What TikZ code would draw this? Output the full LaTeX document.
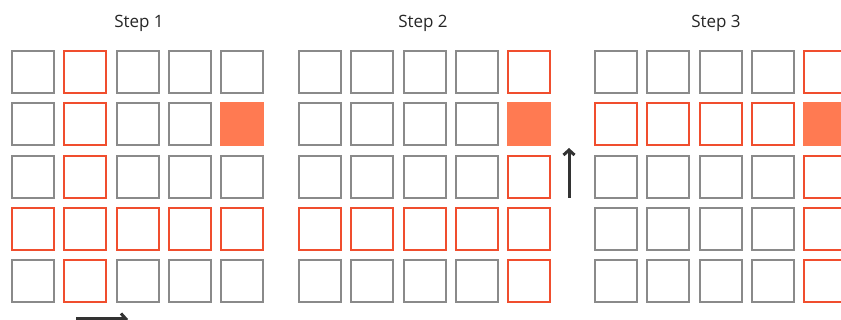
\documentclass[tikz,border=0pt]{standalone}
\usepackage{fontspec}
\setmainfont{Open Sans}
\usetikzlibrary{arrows.meta}

\definecolor{cellgray}{HTML}{8A8A8A}
\definecolor{cellred}{HTML}{F04E2E}
\definecolor{cellfill}{HTML}{FF7A52}

\tikzset{
  cell/.style={draw=cellgray, line width=2pt, minimum size=42pt, inner sep=0pt},
  hot/.style={cell, draw=cellred},
  target/.style={cell, draw=cellfill, fill=cellfill},
  steplabel/.style={font=\fontsize{17}{20}\selectfont, text=black!85},
  movearrow/.style={line width=3pt, draw=black!80, -{Straight Barb[length=5pt,width=11pt]}}
}

\begin{document}
\begin{tikzpicture}[x=1pt,y=-1pt]
\useasboundingbox (0,0) rectangle (841,320);

% Parameters
\def\pitch{52.3}   % distance between cell centres
\def\ytop{72}      % centre of the top row

% Grids: step / x of first column / highlighted column / highlighted row / title x
\foreach \g/\xo/\hc/\hr/\tx in {1/33/1/3/139, 2/320/4/3/423, 3/616/4/1/716} {
    \node[steplabel] (title\g) at (\tx,23) {Step \g};
    \foreach \r in {0,...,4} {
        \foreach \c in {0,...,4} {
            \def\sty{cell}
            \ifnum\c=\hc \def\sty{hot}\fi
            \ifnum\r=\hr \def\sty{hot}\fi
            \ifnum\r=1 \ifnum\c=4 \def\sty{target}\fi\fi
            \node[\sty] (g\g-\r-\c) at (\xo+\c*\pitch, \ytop+\r*\pitch) {};
        }
    }
}

% Arrows
\coordinate (rowstart) at (76,319);
\coordinate (rowend) at (128,319);
\draw[movearrow] (rowstart) -- (rowend);

\coordinate (colstart) at (569,198);
\coordinate (colend) at (569,148);
\draw[movearrow] (colstart) -- (colend);

\end{tikzpicture}
\end{document}
